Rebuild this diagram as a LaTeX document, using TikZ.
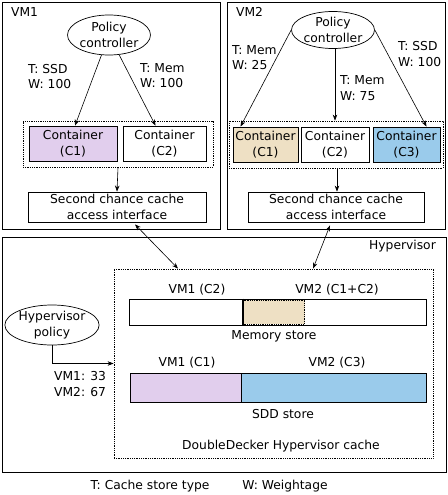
\documentclass[tikz,border=0pt]{standalone}
\usepackage{fontspec}
\setmainfont{DejaVu Sans}
\usetikzlibrary{shapes.geometric,arrows.meta}
\definecolor{lav}{RGB}{225,206,237}
\definecolor{tan}{RGB}{238,224,196}
\definecolor{sky}{RGB}{154,203,235}
\tikzset{
  txt/.style={font=\fontsize{12.3}{15.3}\selectfont, inner sep=0pt, align=center},
  box/.style={draw, line width=0.8pt, rectangle, inner sep=0pt, txt},
  grp/.style={draw, densely dotted, line width=0.8pt, rectangle, inner sep=0pt},
  ell/.style={draw, line width=0.7pt, ellipse, inner sep=0pt, txt},
  arr/.style={-{Stealth[length=6pt,width=4.5pt]}, line width=0.6pt},
  darr/.style={{Stealth[length=6pt,width=4.5pt]}-{Stealth[length=6pt,width=4.5pt]}, line width=0.6pt},
  lbl/.style={txt, align=left},
}
\begin{document}
\begin{tikzpicture}[x=1pt,y=-1pt]
\useasboundingbox (0,0) rectangle (447,495);
\fill[white] (0,0) rectangle (447,495);

% VM1
\node[box, minimum width=218, minimum height=227] (vm1) at (111,115.5) {};
\node[txt, anchor=west] (vm1l) at (11,12) {VM1};
\node[ell, minimum width=80, minimum height=40] (pc1) at (109,35) {Policy\\controller};
\node[grp, minimum width=190, minimum height=46] (g1) at (118,144) {};
\node[box, fill=lav, minimum width=88, minimum height=35] (c1a) at (73,143.5) {Container\\(C1)};
\node[box, minimum width=83, minimum height=35] (c2a) at (164.5,143.5) {Container\\(C2)};
\node[box, minimum width=178, minimum height=30] (if1) at (117,207) {Second chance cache\\access interface};
\node[lbl, anchor=west] (l1) at (28,76.5) {T: SSD\\W: 100};
\node[lbl, anchor=west] (l2) at (140,75.5) {T: Mem\\W: 100};
\draw[arr] (pc1) -- ([xshift=2]c1a.north);
\draw[arr] (pc1) -- ([xshift=-9]c2a.north);
\draw[arr] (g1.south) -- (if1.north);

% VM2
\node[box, minimum width=218, minimum height=227] (vm2) at (336,115.5) {};
\node[txt, anchor=west] (vm2l) at (236,12) {VM2};
\node[ell, minimum width=77, minimum height=37] (pc2) at (333,30) {Policy\\controller};
\node[grp, minimum width=214, minimum height=47] (g2) at (336,144.5) {};
\node[box, fill=tan, minimum width=65, minimum height=35] (c1b) at (265.5,144.5) {Container\\(C1)};
\node[box, minimum width=68, minimum height=35] (c2b) at (335,144.5) {Container\\(C2)};
\node[box, fill=sky, minimum width=67, minimum height=35] (c3b) at (406.5,144.5) {Container\\(C3)};
\node[box, minimum width=176, minimum height=30] (if2) at (336,207) {Second chance cache\\access interface};
\node[lbl, anchor=west] (l3) at (232,57.5) {T: Mem\\W: 25};
\node[lbl, anchor=west] (l4) at (340,88) {T: Mem\\W: 75};
\node[lbl, anchor=west] (l5) at (398,54) {T: SSD\\W: 100};
\draw[arr] (pc2.west) -- ([xshift=-25]c1b.north);
\draw[arr] (pc2.south -| 335,0) -- (g2.north -| 335,0);
\draw[arr] (pc2.east) -- ([xshift=20]c3b.north);
\draw[arr] ([xshift=1]g2.south) -- ([xshift=1]if2.north);

% Hypervisor
\node[box, minimum width=444, minimum height=235] (hv) at (224,354.5) {};
\node[txt, anchor=east] (hvl) at (436,246) {Hypervisor};
\node[grp, minimum width=319, minimum height=189] (cache) at (273.5,363.5) {};
\node[ell, minimum width=88, minimum height=40] (hp) at (52,325) {Hypervisor\\policy};
\node[lbl, anchor=west] (hpl) at (54,384) {VM1: 33\\VM2: 67};
\draw[arr] (hp.south) |- (cache.west);
\draw[darr] ([xshift=18,yshift=-2]if1.south) -- ([xshift=-95.5]cache.north);
\draw[darr] ([xshift=-6,yshift=-3]if2.south) -- ([xshift=39.5]cache.north);

% Memory store
\node[box, minimum width=297, minimum height=26] (mem) at (277.5,312) {};
\node[draw, densely dotted, line width=0.8pt, fill=tan, minimum width=61, minimum height=24, inner sep=0pt] (memv2) at (274,312) {};
\draw[line width=1.2pt] (mem.north -| 243,0) -- (mem.south -| 243,0);
\node[txt] (m1) at (197,290) {VM1 (C2)};
\node[txt] (m2) at (337,290) {VM2 (C1+C2)};
\node[txt] (m3) at (274,336) {Memory store};

% SSD store
\node[box, fill=lav, minimum width=111, minimum height=29] (s1) at (185.5,387.5) {};
\node[box, fill=sky, minimum width=185, minimum height=29] (s2) at (333.5,387.5) {};
\node[txt] (s1l) at (187,363) {VM1 (C1)};
\node[txt] (s2l) at (337,363) {VM2 (C3)};
\node[txt] (s3) at (283,414) {SDD store};
\node[txt] (cl) at (281,446) {DoubleDecker Hypervisor cache};

% Legend
\node[txt] (lg1) at (150,486) {T: Cache store type};
\node[txt] (lg2) at (285,486) {W: Weightage};
\end{tikzpicture}
\end{document}
